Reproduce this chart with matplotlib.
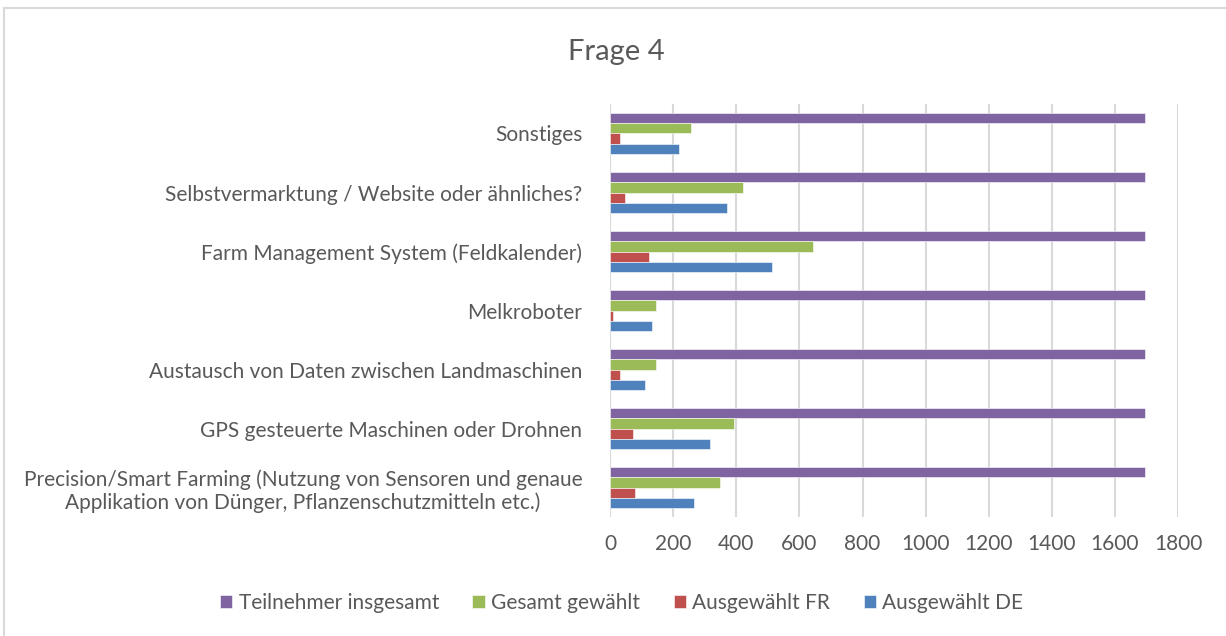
import matplotlib
matplotlib.use("Agg")
import matplotlib.pyplot as plt
from matplotlib.patches import Rectangle
import numpy as np

plt.rcParams['font.family'] = ['Liberation Sans Narrow', 'Lato', 'DejaVu Sans']

# categories from bottom to top, as Excel draws them
categories = [
    "Precision/Smart Farming (Nutzung von Sensoren und genaue\nApplikation von Dünger, Pflanzenschutzmitteln etc.)",
    "GPS gesteuerte Maschinen oder Drohnen",
    "Austausch von Daten zwischen Landmaschinen",
    "Melkroboter",
    "Farm Management System (Feldkalender)",
    "Selbstvermarktung / Website oder ähnliches?",
    "Sonstiges",
]
teilnehmer = [1696, 1696, 1696, 1696, 1696, 1696, 1696]
gesamt = [347, 394, 147, 147, 642, 420, 255]
fr = [78, 73, 30, 10, 124, 46, 30]
de = [266, 316, 112, 132, 513, 371, 220]
xticks = [0, 200, 400, 600, 800, 1000, 1200, 1400, 1600, 1800]

series = [
    ("Teilnehmer insgesamt", teilnehmer, "#8064A2"),
    ("Gesamt gewählt", gesamt, "#9BBB59"),
    ("Ausgewählt FR", fr, "#C0504D"),
    ("Ausgewählt DE", de, "#4F81BD"),
]

fig = plt.figure(figsize=(12.26, 6.36), dpi=100)
fig.patches.append(Rectangle((0.003, -0.01), 1.0, 0.998, transform=fig.transFigure,
                             fill=False, edgecolor="#D9D9D9", linewidth=1.5))
ax = fig.add_axes([0.4976, 0.187, 0.4633, 0.6495])

y = np.arange(len(categories))
h = 0.172
for i, (name, vals, col) in enumerate(series):
    off = (1.5 - i) * h
    ax.barh(y + off, vals, height=h, color=col, edgecolor="white", linewidth=0.4, label=name, zorder=3)

ax.set_ylim(-0.5, len(categories) - 0.5)
ax.set_xlim(0, 1800)
ax.set_xticks(xticks)
ax.set_xticklabels([str(t) for t in xticks])
ax.set_yticks(y)
ax.set_yticklabels(categories, multialignment="center")
ax.grid(axis="x", color="#D9D9D9", linewidth=1.5, zorder=0)
for s in ax.spines.values():
    s.set_visible(False)
ax.tick_params(axis="both", length=0, labelsize=15, colors="#595959")
ax.tick_params(axis="y", pad=20)
ax.tick_params(axis="x", pad=12)

fig.text(0.503, 0.918, "Frage 4", ha="center", va="center", fontsize=21, color="#595959")

handles, labels = ax.get_legend_handles_labels()
fig.legend(handles, labels, loc="center", bbox_to_anchor=(0.507, 0.052), ncol=4, frameon=False,
           fontsize=15, labelcolor="#595959", handlelength=0.6, handleheight=0.6,
           handletextpad=0.3, columnspacing=1.6)

fig.savefig("out.png", dpi=100)
